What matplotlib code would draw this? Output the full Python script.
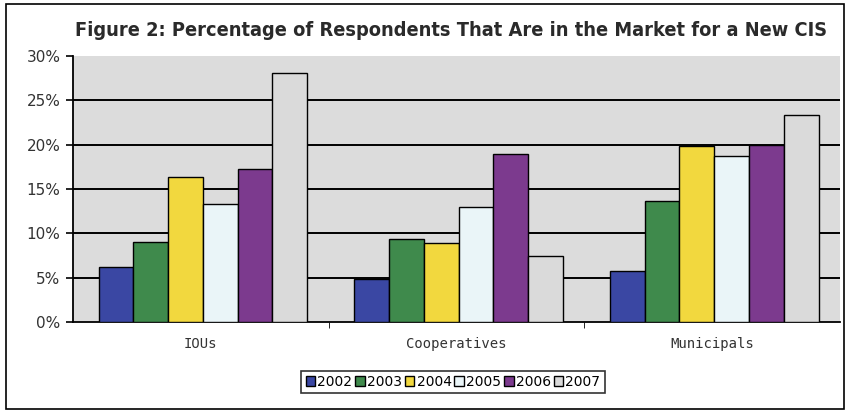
import numpy as np
import matplotlib.pyplot as plt
from matplotlib.patches import Rectangle

# Share of respondents shopping for a new CIS, by utility type and year
categories = ['IOUs', 'Cooperatives', 'Municipals']
years = ['2002', '2003', '2004', '2005', '2006', '2007']
pct_2002 = [6.2, 4.9, 5.75]
pct_2003 = [9.0, 9.4, 13.6]
pct_2004 = [16.3, 8.9, 19.9]
pct_2005 = [13.3, 13.0, 18.7]
pct_2006 = [17.25, 19.0, 20.0]
pct_2007 = [28.1, 7.5, 23.3]
series = [pct_2002, pct_2003, pct_2004, pct_2005, pct_2006, pct_2007]
colors = ['#3a47a3', '#3f8a4c', '#f2d83e', '#eaf5f8', '#7c3a8e', '#dadada']

fig = plt.figure(figsize=(8.46, 4.13), dpi=100)
fig.patch.set_facecolor('white')
# outer frame
fig.add_artist(Rectangle((6 / 846, 4 / 413), 838 / 846, 405 / 413, transform=fig.transFigure,
                         fill=False, edgecolor='black', lw=1.2))

ax = fig.add_axes([73 / 846, (413 - 322) / 413, (840 - 73) / 846, (322 - 56) / 413])
ax.set_facecolor('#dcdcdc')

x = np.arange(len(categories))
width = 0.816 / len(years)
for i, (vals, c, yr) in enumerate(zip(series, colors, years)):
    ax.bar(x - 0.408 + width * (i + 0.5) + 0.008, vals, width, color=c,
           edgecolor='black', linewidth=1.0, label=yr, zorder=3)

for v in range(5, 30, 5):
    ax.axhline(v, color='black', lw=1.4, zorder=1)

ax.set_xlim(-0.5, 2.5)
ax.set_ylim(0, 30)
ax.set_yticks(range(0, 31, 5))
ax.set_yticklabels([f'{v}%' for v in range(0, 31, 5)], fontsize=11, color='#333333')
ax.set_xticks(x)
ax.set_xticklabels(categories, fontsize=10, color='#333333', fontfamily='DejaVu Sans Mono')
ax.set_xticks([0.5, 1.5], minor=True)
ax.tick_params(axis='x', which='major', length=0, pad=11)
ax.tick_params(axis='x', which='minor', length=4, direction='out')
ax.tick_params(axis='y', length=5, direction='out', width=1.2, pad=4)
for side in ['top', 'right']:
    ax.spines[side].set_visible(False)
ax.spines['left'].set_linewidth(1.3)
ax.spines['bottom'].set_linewidth(1.3)

fig.text(451 / 846, 1 - 31 / 413,
         'Figure 2: Percentage of Respondents That Are in the Market for a New CIS',
         ha='center', va='center', fontsize=14.3, fontweight='bold', fontstretch='condensed',
         color='#2a2a2a', family='DejaVu Sans')

leg = fig.legend(loc='center', bbox_to_anchor=(453 / 846, 1 - 382 / 413), ncol=6,
                 fontsize=10, frameon=True, fancybox=False, edgecolor='black',
                 handlelength=0.7, handleheight=0.7, handletextpad=0.15, columnspacing=0.2,
                 borderpad=0.3, borderaxespad=0)
leg.get_frame().set_linewidth(1.2)

fig.savefig('out.png', dpi=100)
